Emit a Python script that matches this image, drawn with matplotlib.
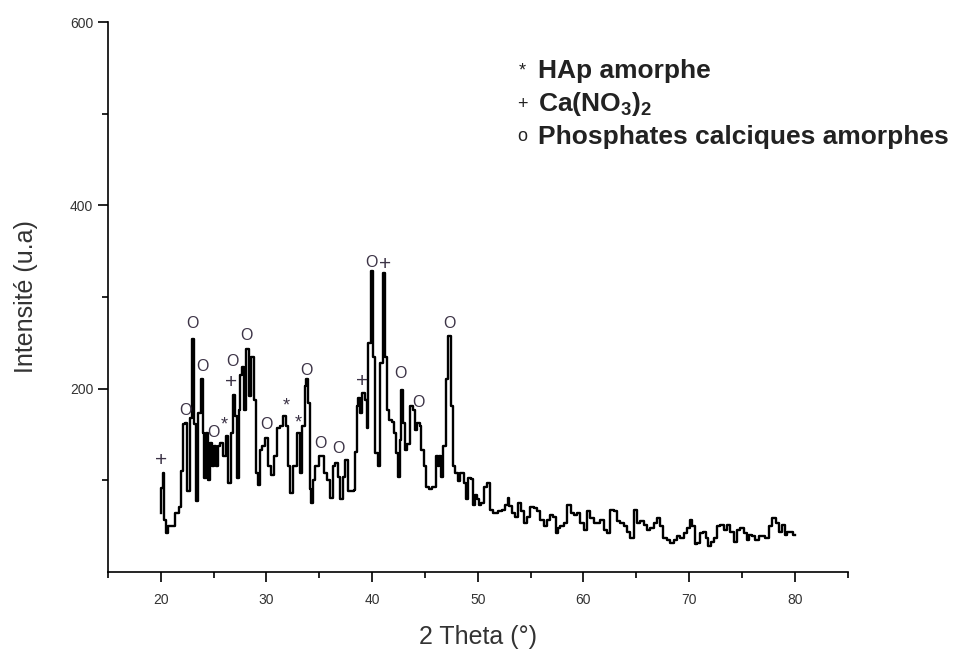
import numpy as np
import matplotlib
matplotlib.use("Agg")
import matplotlib.pyplot as plt
from matplotlib.ticker import FixedLocator

plt.rcParams['font.family'] = ['Liberation Sans', 'DejaVu Sans']
plt.rcParams['mathtext.fontset'] = 'custom'
plt.rcParams['mathtext.rm'] = 'Liberation Sans'
plt.rcParams['mathtext.bf'] = 'Liberation Sans:bold'

# diffractogramme (2 theta en degres, intensite u.a)
two_theta = [
    20.0, 20.12, 20.28, 20.41, 20.6, 20.8, 21.23, 21.55, 21.86, 22.08,
    22.24, 22.43, 22.65, 22.84, 23.06, 23.28, 23.47, 23.66, 23.91, 24.06,
    24.23, 24.42, 24.58, 24.73, 24.92, 25.11, 25.3, 25.49, 25.8, 26.05,
    26.27, 26.53, 26.75, 26.94, 27.13, 27.32, 27.47, 27.63, 27.85, 28.01,
    28.2, 28.49, 28.7, 28.89, 29.11, 29.27, 29.46, 29.74, 30.06, 30.28,
    30.6, 30.85, 31.16, 31.48, 31.73, 31.95, 32.11, 32.3, 32.74, 33.06,
    33.31, 33.53, 33.69, 33.88, 34.07, 34.19, 34.32, 34.5, 34.79, 35.11,
    35.32, 35.58, 35.89, 36.15, 36.37, 36.68, 36.84, 37.1, 37.31, 37.63,
    37.79, 38.16, 38.35, 38.45, 38.61, 38.8, 38.99, 39.2, 39.42, 39.55,
    39.75, 40.0, 40.18, 40.47, 40.69, 40.88, 41.13, 41.35, 41.5, 41.73,
    42.04, 42.2, 42.36, 42.52, 42.68, 42.87, 43.05, 43.24, 43.46, 43.72,
    43.94, 44.15, 44.41, 44.57, 44.72, 45.04, 45.26, 45.51, 45.92, 46.14,
    46.3, 46.45, 46.61, 46.87, 47.09, 47.31, 47.56, 47.75, 48.03, 48.19,
    48.51, 48.83, 48.98, 49.2, 49.45, 49.61, 49.83, 50.09, 50.24, 50.46,
    50.72, 51.03, 51.29, 51.67, 52.14, 52.45, 52.77, 52.92, 53.08, 53.4,
    53.71, 53.93, 54.18, 54.5, 54.82, 55.13, 55.45, 55.76, 56.08, 56.39,
    56.71, 57.02, 57.27, 57.5, 57.66, 57.97, 58.29, 58.66, 58.92, 59.23,
    59.55, 59.86, 60.18, 60.49, 60.81, 61.12, 61.44, 61.75, 62.07, 62.38,
    62.7, 63.02, 63.33, 63.65, 63.96, 64.28, 64.59, 64.91, 65.22, 65.54,
    65.85, 66.17, 66.48, 66.8, 67.11, 67.43, 67.68, 68.06, 68.37, 68.69,
    69.0, 69.32, 69.64, 69.89, 70.2, 70.43, 70.65, 70.9, 71.21, 71.47,
    71.68, 71.91, 72.22, 72.48, 72.79, 73.1, 73.42, 73.74, 74.05, 74.37,
    74.68, 75.0, 75.31, 75.57, 75.79, 76.1, 76.42, 76.73, 77.05, 77.36,
    77.68, 78.09, 78.4, 78.63, 78.94, 79.16, 79.41, 79.73, 79.98,
]
intensite = [
    64, 91, 108, 57, 42, 50, 50, 64, 71, 110,
    161, 163, 88, 168, 254, 161, 77, 173, 210, 152,
    102, 152, 100, 141, 115, 137, 115, 137, 141, 126,
    148, 97, 152, 193, 170, 102, 177, 215, 224, 177,
    243, 192, 235, 188, 108, 95, 133, 137, 146, 115,
    106, 126, 157, 159, 170, 159, 115, 86, 115, 152,
    108, 159, 203, 210, 184, 90, 75, 100, 115, 126,
    126, 108, 100, 81, 115, 119, 104, 79, 104, 122,
    88, 88, 89, 131, 181, 190, 173, 195, 188, 157,
    250, 328, 235, 130, 115, 228, 326, 235, 177, 166,
    164, 152, 130, 104, 144, 199, 162, 133, 140, 181,
    177, 155, 163, 159, 133, 115, 93, 90, 93, 126,
    115, 126, 104, 137, 210, 257, 181, 115, 108, 99,
    108, 97, 79, 102, 101, 73, 84, 79, 73, 75,
    93, 97, 68, 64, 66, 68, 73, 81, 72, 64,
    60, 75, 66, 53, 60, 71, 70, 66, 57, 50,
    57, 62, 60, 42, 48, 50, 53, 73, 64, 62,
    64, 53, 46, 66, 59, 53, 53, 57, 46, 42,
    68, 66, 55, 53, 50, 44, 37, 68, 53, 55,
    51, 46, 48, 53, 59, 50, 37, 35, 31, 35,
    39, 37, 42, 48, 57, 50, 30, 31, 42, 44,
    37, 28, 33, 37, 50, 51, 46, 51, 44, 33,
    46, 48, 42, 35, 40, 39, 35, 39, 39, 37,
    50, 59, 53, 44, 51, 40, 44, 44, 40,
]

# reperes des pics : symbole, position 2theta, hauteur
pic_symboles = ['+', 'O', 'O', 'O', 'O', '*', 'O', '+', 'O', 'O',
                '*', '*', 'O', 'O', 'O', '+', 'O', '+', 'O', 'O', 'O']
pic_x = [20.0, 22.3, 23.0, 24.0, 24.95, 26.05, 26.8, 26.7, 28.1, 30.0,
         31.9, 33.0, 33.8, 35.1, 36.8, 39.1, 39.9, 41.2, 42.7, 44.4, 47.35]
pic_y = [122, 176, 271, 224, 152, 160, 230, 207, 258, 161,
         181, 163, 220, 140, 135, 208, 338, 335, 216, 185, 271]

legende = [('*', 'HAp amorphe'),
           ('+', r'Ca(NO$_\mathbf{3}$)$_\mathbf{2}$'),
           ('o', 'Phosphates calciques amorphes')]

fig = plt.figure(figsize=(9.8, 6.55), dpi=100)
ax = fig.add_axes([0.110, 0.127, 0.755, 0.839])

ax.plot(two_theta, intensite, color='black', lw=1.7, drawstyle='steps-mid')

for s, x, y in zip(pic_symboles, pic_x, pic_y):
    fs = {'O': 11.5, '+': 15, '*': 13}[s]
    ax.text(x, y, s, ha='center', va='center', fontsize=fs, color='#3c3346')

ax.set_xlim(15, 85)
ax.set_ylim(0, 600)
ax.xaxis.set_major_locator(FixedLocator([20, 30, 40, 50, 60, 70, 80]))
ax.xaxis.set_minor_locator(FixedLocator([15, 25, 35, 45, 55, 65, 75, 85]))
ax.yaxis.set_major_locator(FixedLocator([200, 400, 600]))
ax.yaxis.set_minor_locator(FixedLocator([100, 300, 500]))
ax.tick_params(which='major', direction='out', length=7, width=1.2,
               labelsize=10, colors='black', labelcolor='#333333')
ax.tick_params(which='minor', direction='out', length=4, width=1.2)
ax.tick_params(axis='x', which='major', pad=8)

for side in ['top', 'right']:
    ax.spines[side].set_visible(False)
for side in ['left', 'bottom']:
    ax.spines[side].set_linewidth(1.2)

ax.set_xlabel('2 Theta (°)', fontsize=18, color='#333333')
ax.set_ylabel('Intensité (u.a)', fontsize=18, color='#333333')
ax.xaxis.set_label_coords(0.5, -0.097)
ax.yaxis.set_label_coords(-0.095, 0.5)

for i, (sym, txt) in enumerate(legende):
    yy = 0.891 - i * 0.05
    fig.text(0.533, yy, sym, fontsize=13, ha='center', va='center',
             color='#222222')
    fig.text(0.549, yy, txt, fontsize=19, fontweight='bold', ha='left',
             va='center', color='#222222')

fig.savefig('out.png', dpi=100)
